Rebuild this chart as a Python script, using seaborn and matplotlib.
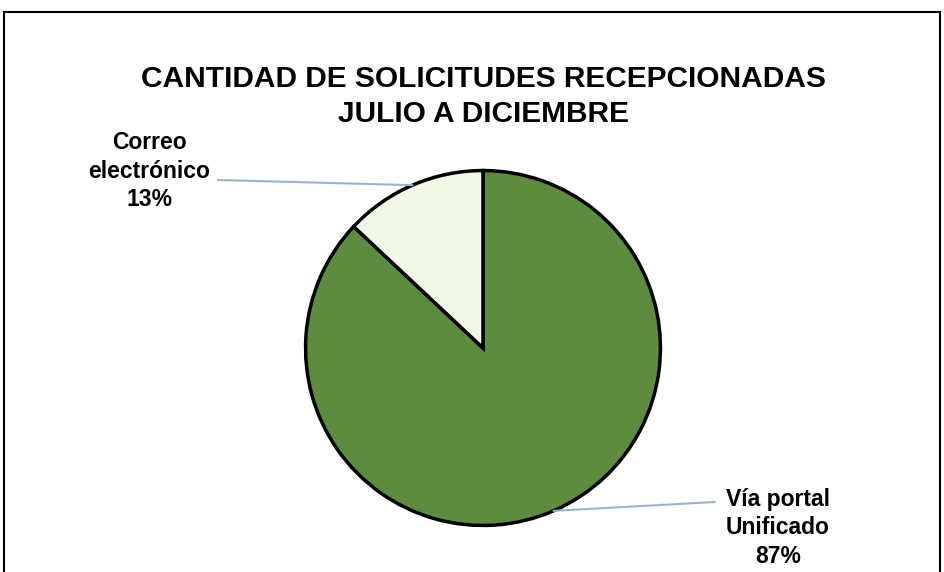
import matplotlib
matplotlib.use("Agg")
import matplotlib.pyplot as plt
import seaborn as sns
import numpy as np
from matplotlib.patches import Rectangle

# Data
categories = ["Vía portal\nUnificado", "Correo\nelectrónico"]
values = [87, 13]
title_lines = ["CANTIDAD DE SOLICITUDES RECEPCIONADAS", "JULIO A DICIEMBRE"]

sns.set_theme(style="white")
plt.rcParams['font.family'] = ['Liberation Sans', 'DejaVu Sans']

colors = ["#5E8C3E", "#F0F9E6"]

W, H = 945, 572
fig = plt.figure(figsize=(W / 100, H / 100), dpi=100)
fig.patch.set_facecolor("white")

cx, cy, r = 483, 348, 181
ax = fig.add_axes([(cx - r) / W, (H - cy - r) / H, 2 * r / W, 2 * r / H])
wedges, _ = ax.pie(values, colors=colors, startangle=90, counterclock=False,
                   radius=1.0,
                   wedgeprops=dict(edgecolor="black", linewidth=2.5))
ax.set_xlim(-1.02, 1.02)
ax.set_ylim(-1.02, 1.02)
ax.set_aspect("equal")
ax.axis("off")

# Title
fig.text(cx / W, 1 - 79 / H, title_lines[0], ha="center", va="center",
         fontsize=21.5, fontweight="bold", color="black")
fig.text(cx / W, 1 - 114 / H, title_lines[1], ha="center", va="center",
         fontsize=21.5, fontweight="bold", color="black")

# Labels with leader lines
label_pos = [(778, 528), (149, 171)]
line_start = [(715, 502), (218, 180)]
for w, lab, v, (tx, ty), (lx, ly) in zip(wedges, categories, values, label_pos, line_start):
    ang = np.deg2rad((w.theta1 + w.theta2) / 2)
    xe, ye = np.cos(ang), np.sin(ang)
    ax.annotate("", xy=(xe, ye), xycoords="data",
                xytext=(lx, H - ly), textcoords="figure pixels",
                arrowprops=dict(arrowstyle="-", color="#95B3D7", lw=1.5,
                                shrinkA=0, shrinkB=0))
    fig.text(tx / W, 1 - ty / H, f"{lab}\n{v}%", ha="center", va="center",
             fontsize=16.5, fontweight="bold", color="black", linespacing=1.32)

# Chart frame
fig.patches.append(Rectangle((4 / W, -0.05), (940 - 4) / W, 1.05 - 12 / H,
                             transform=fig.transFigure, fill=False,
                             edgecolor="black", linewidth=1.5, clip_on=False))

fig.savefig("out.png", dpi=100)
